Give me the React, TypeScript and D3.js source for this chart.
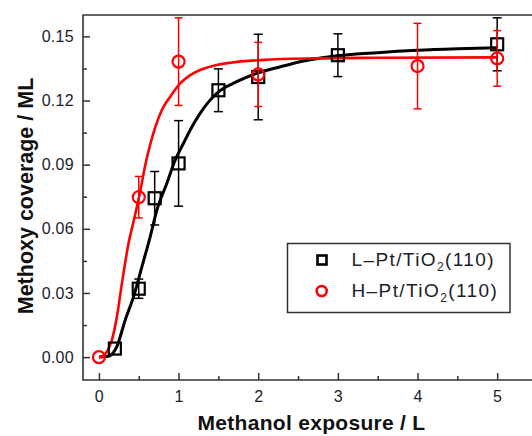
import React, { useEffect, useRef } from "react";
import * as d3 from "d3";

// ---- data ----
const lX = [0.2, 0.5, 0.7, 1, 1.5, 2, 3, 5];
const lY = [0.004, 0.032, 0.0743, 0.0906, 0.1248, 0.131, 0.1412, 0.1463];
const lErr = [0, 0.0045, 0.0125, 0.02, 0.01, 0.02, 0.01, 0.0124];

const hX = [0, 0.5, 1, 2, 4, 5];
const hY = [0, 0.0748, 0.1382, 0.1322, 0.1361, 0.1397];
const hErr = [0, 0.0097, 0.0205, 0.015, 0.02, 0.013];

const lFitX = [0, 0.12, 0.226, 0.33, 0.435, 0.54, 0.644, 0.728, 0.853, 0.958, 1.062, 1.146, 1.27, 1.48, 1.73, 1.98, 2.28, 2.57, 2.9, 3.5, 4, 4.5, 5];
const lFitY = [0, 0.0004, 0.005, 0.0174, 0.0283, 0.0423, 0.0564, 0.0688, 0.0813, 0.0922, 0.1, 0.1062, 0.114, 0.1234, 0.1288, 0.1327, 0.1358, 0.1385, 0.1405, 0.1424, 0.1435, 0.1442, 0.1447];

const hFitX = [0, 0.037, 0.163, 0.226, 0.289, 0.372, 0.435, 0.518, 0.58, 0.644, 0.707, 0.79, 0.895, 1.02, 1.146, 1.27, 1.44, 1.65, 2.07, 2.69, 3.5, 5];
const hFitY = [0, 0.0003, 0.0081, 0.019, 0.0346, 0.0533, 0.0635, 0.0775, 0.0895, 0.0995, 0.1075, 0.1156, 0.1218, 0.128, 0.1319, 0.1343, 0.1363, 0.1377, 0.139, 0.1397, 0.14, 0.1402];

const xMajor = [0, 1, 2, 3, 4, 5];
const xMinor = [0.5, 1.5, 2.5, 3.5, 4.5];
const yMajor = [0, 0.03, 0.06, 0.09, 0.12, 0.15];
const yMinor = [0.015, 0.045, 0.075, 0.105, 0.135];

const seriesNames = ["L\u2013Pt/TiO", "H\u2013Pt/TiO"];
const xTitle = "Methanol exposure / L";
const yTitle = "Methoxy coverage / ML";

const W = 532;
const H = 436;
const L = 83, T = 15, B = 380, R = 537;
const FONT = "'Liberation Sans', Arial, sans-serif";
const AX = "#333";

export default function App() {
  const ref = useRef<SVGSVGElement>(null);

  useEffect(() => {
    const svg = d3.select(ref.current);
    svg.selectAll("*").remove();

    const x = d3.scaleLinear().domain([-0.2, 5.5]).range([L, R]);
    const y = d3.scaleLinear().domain([-0.0107, 0.16]).range([B, T]);

    // axes
    const gL = svg.append("g").attr("transform", `translate(${L},0)`);
    gL.call(
      d3.axisLeft(y).tickValues(yMajor).tickFormat(d3.format(".2f") as any).tickSizeInner(-7).tickSizeOuter(0).tickPadding(9)
    );
    const gLm = svg.append("g").attr("transform", `translate(${L},0)`);
    gLm.call(d3.axisLeft(y).tickValues(yMinor).tickFormat(() => "").tickSizeInner(-4).tickSizeOuter(0));

    const gB = svg.append("g").attr("transform", `translate(0,${B})`);
    gB.call(d3.axisBottom(x).tickValues(xMajor).tickFormat(d3.format("d") as any).tickSizeInner(-7).tickSizeOuter(0).tickPadding(11));
    const gBm = svg.append("g").attr("transform", `translate(0,${B})`);
    gBm.call(d3.axisBottom(x).tickValues(xMinor).tickFormat(() => "").tickSizeInner(-4).tickSizeOuter(0));

    [gL, gLm, gB, gBm].forEach((g) => {
      g.select(".domain").remove();
      g.selectAll(".tick line").attr("stroke", AX).attr("stroke-width", 1.5);
      g.selectAll(".tick text").attr("font-family", FONT).attr("font-size", 16).attr("letter-spacing", 0.3).attr("fill", "#1c1c2a");
    });

    // frame
    svg.append("path")
      .attr("d", `M${W},${T}H${L}V${B}H${W}`)
      .attr("fill", "none").attr("stroke", AX).attr("stroke-width", 1.6);

    // curves
    const line = d3.line<[number, number]>().x((d) => x(d[0])).y((d) => y(d[1])).curve(d3.curveMonotoneX);
    svg.append("path")
      .attr("d", line(lFitX.map((v, i) => [v, lFitY[i]]))!)
      .attr("fill", "none").attr("stroke", "#000").attr("stroke-width", 3);
    svg.append("path")
      .attr("d", line(hFitX.map((v, i) => [v, hFitY[i]]))!)
      .attr("fill", "none").attr("stroke", "#ff0000").attr("stroke-width", 2.6);

    const errBars = (xs: number[], ys: number[], es: number[], color: string, cap: number) => {
      const g = svg.append("g").attr("stroke", color).attr("stroke-width", 1.5);
      xs.forEach((xv, i) => {
        if (!es[i]) return;
        const cx = x(xv), y0 = y(ys[i] - es[i]), y1 = y(ys[i] + es[i]);
        g.append("line").attr("x1", cx).attr("x2", cx).attr("y1", y0).attr("y2", y1);
        g.append("line").attr("x1", cx - cap / 2).attr("x2", cx + cap / 2).attr("y1", y0).attr("y2", y0);
        g.append("line").attr("x1", cx - cap / 2).attr("x2", cx + cap / 2).attr("y1", y1).attr("y2", y1);
      });
    };

    errBars(lX, lY, lErr, "#000", 9);
    svg.append("g").selectAll("rect").data(lX).join("rect")
      .attr("x", (d) => x(d) - 6).attr("y", (_, i) => y(lY[i]) - 6)
      .attr("width", 12).attr("height", 12)
      .attr("fill", "none").attr("stroke", "#000").attr("stroke-width", 2.2);

    errBars(hX, hY, hErr, "#ff0000", 8);
    svg.append("g").selectAll("circle").data(hX).join("circle")
      .attr("cx", (d) => x(d)).attr("cy", (_, i) => y(hY[i])).attr("r", 6)
      .attr("fill", "none").attr("stroke", "#ff0000").attr("stroke-width", 2.2);

    // legend
    const lg = svg.append("g");
    lg.append("rect").attr("x", 287.5).attr("y", 243.5).attr("width", 222.5).attr("height", 69)
      .attr("fill", "#fff").attr("stroke", AX).attr("stroke-width", 1.5);
    lg.append("rect").attr("x", 317.5).attr("y", 255.5).attr("width", 9).attr("height", 9)
      .attr("fill", "none").attr("stroke", "#000").attr("stroke-width", 2.6);
    lg.append("circle").attr("cx", 321.7).attr("cy", 291).attr("r", 5)
      .attr("fill", "none").attr("stroke", "#ff0000").attr("stroke-width", 2.6);
    [266, 297].forEach((by, i) => {
      const t = lg.append("text").attr("x", 351.5).attr("y", by)
        .attr("font-family", FONT).attr("font-size", 19).attr("letter-spacing", 1.4).attr("fill", "#1c1c2a");
      t.append("tspan").text(seriesNames[i]);
      t.append("tspan").attr("font-size", 12).attr("dy", 5).text("2");
      t.append("tspan").attr("dy", -5).text("(110)");
    });

    // titles
    svg.append("text").attr("x", 311.5).attr("y", 430).attr("text-anchor", "middle")
      .attr("font-family", FONT).attr("font-size", 21).attr("letter-spacing", 0.3).attr("font-weight", "bold").attr("fill", "#111")
      .text(xTitle);
    svg.append("text").attr("transform", "translate(33,196) rotate(-90)").attr("text-anchor", "middle")
      .attr("font-family", FONT).attr("font-size", 21.5).attr("font-weight", "bold").attr("fill", "#111")
      .text(yTitle);
  }, []);

  return (
    <svg
      ref={ref}
      width={W}
      height={H}
      style={{ position: "absolute", left: 0, top: 0, background: "#fff" }}
    />
  );
}
